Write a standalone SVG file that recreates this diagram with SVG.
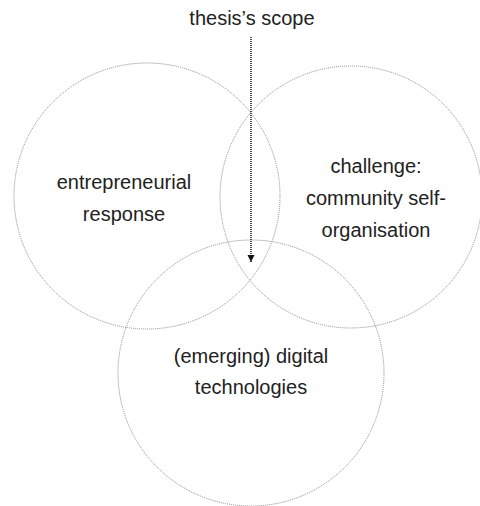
<svg xmlns="http://www.w3.org/2000/svg" width="480" height="506" viewBox="0 0 480 506">
<style>
.c{fill:none;stroke:#8a8a8a;stroke-width:1;stroke-dasharray:1 1}
.t{font-family:"Liberation Sans",Arial,sans-serif;font-size:20px;fill:#222;text-anchor:middle}
</style>
<defs>
<marker id="ah" markerWidth="8" markerHeight="8" refX="7" refY="4" orient="auto" markerUnits="userSpaceOnUse">
<path d="M0,0.5 L7,4 L0,7.5 Z" fill="#111"/>
</marker>
</defs>
<rect width="480" height="506" fill="#fff"/>
<g id="left"><circle class="c" cx="147" cy="196" r="133"/><text class="t" x="124" y="189">entrepreneurial</text><text class="t" x="124" y="221">response</text></g>
<g id="right"><circle class="c" cx="351" cy="197" r="131"/><text class="t" x="376" y="173">challenge:</text><text class="t" x="376" y="205">community self-</text><text class="t" x="376" y="237">organisation</text></g>
<g id="bottom"><circle class="c" cx="251" cy="373" r="133"/><text class="t" x="251" y="363">(emerging) digital</text><text class="t" x="251" y="394">technologies</text></g>
<g id="scope"><text class="t" x="252" y="25">thesis’s scope</text></g>
<g id="connectors"><line x1="251" y1="37" x2="251" y2="262" stroke="#111" stroke-width="1.5" stroke-dasharray="1 1" marker-end="url(#ah)"/></g>
</svg>
